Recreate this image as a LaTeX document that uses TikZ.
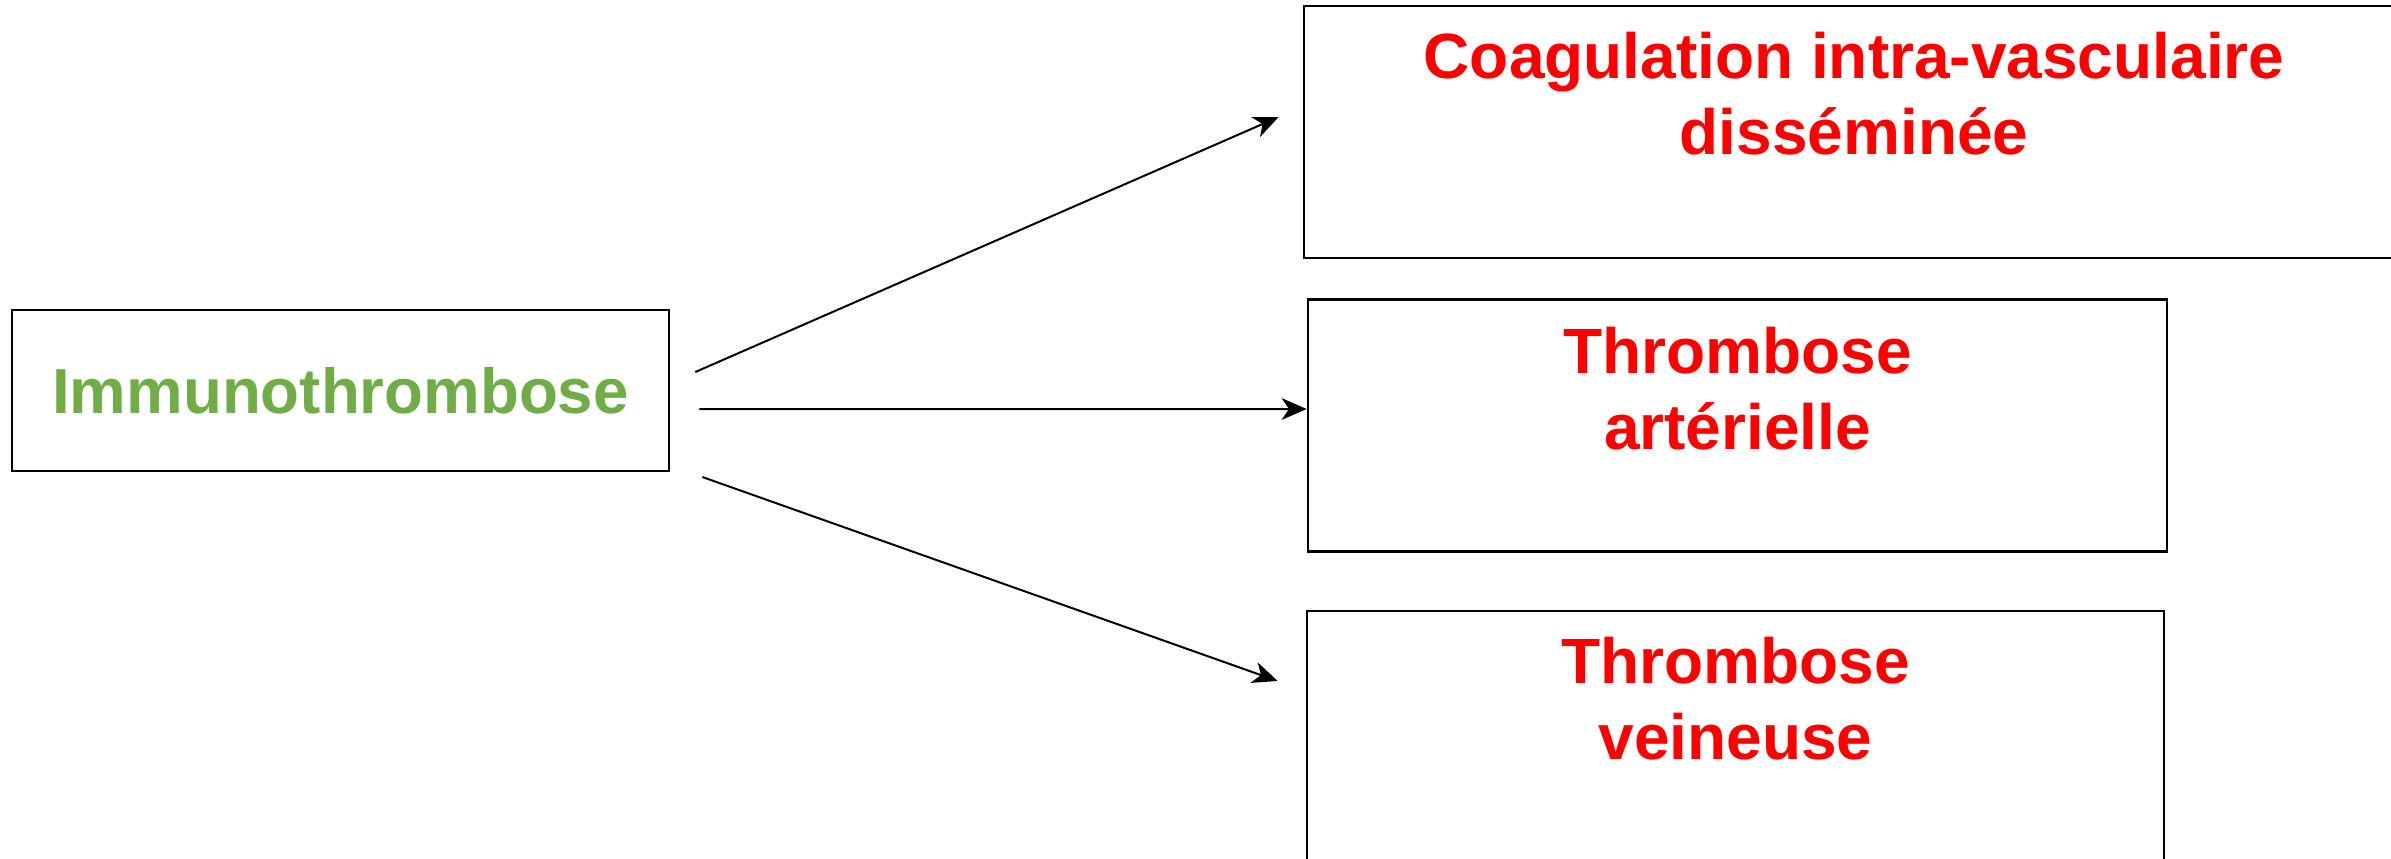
\documentclass[tikz,border=0pt]{standalone}
\usepackage{fontspec}
\setmainfont{Liberation Sans}
\usepackage{xcolor}
\usetikzlibrary{arrows.meta,positioning,calc}
\definecolor{immgreen}{HTML}{70AD47}
\definecolor{resred}{HTML}{FF0000}

\begin{document}
\begin{tikzpicture}[
  x=0.3pt, y=-0.3pt,
  box/.style={draw, line width=0.8pt, inner sep=0pt, minimum width=#1},
  res/.style={box=#1, minimum height=252*0.3pt},
  restxt/.style={anchor=north, inner sep=0pt, align=center, font=\fontsize{19.2pt}{22.8pt}\selectfont\bfseries, text=resred},
  arr/.style={-{Stealth[length=7.5pt, width=6.5pt, inset=2.2pt]}, line width=0.6pt}
]
\clip (0,0) rectangle (2391,859);

\node[box=657*0.3pt, minimum height=161*0.3pt, font=\fontsize{19.1pt}{22pt}\selectfont\bfseries, text=immgreen] (immuno) at (340.5,390.5) {Immunothrombose};

\node[res=1100*0.3pt] (civd) at (1854,132) {};
\node[res=859*0.3pt] (art) at (1737.5,425.5) {};
\node[res=857*0.3pt] (vein) at (1735.5,737) {};

\node[restxt] (civdtxt) at ($(civd.north)+(0,27)$) {Coagulation intra-vasculaire\\disséminée};
\node[restxt] (arttxt) at ($(art.north)+(0,28)$) {Thrombose\\artérielle};
\node[restxt] (veintxt) at ($(vein.north)+(0,27)$) {Thrombose\\veineuse};

\draw[arr] ($(immuno.east)+(25,-18.5)$) -- ($(civd.west)+(-24,-15)$);
\draw[arr] ($(immuno.east)+(29,18.5)$) -- ($(art.west)+(0,-16.5)$);
\draw[arr] ($(immuno.east)+(32,86.5)$) -- ($(vein.west)+(-28,-56)$);

\end{tikzpicture}
\end{document}
